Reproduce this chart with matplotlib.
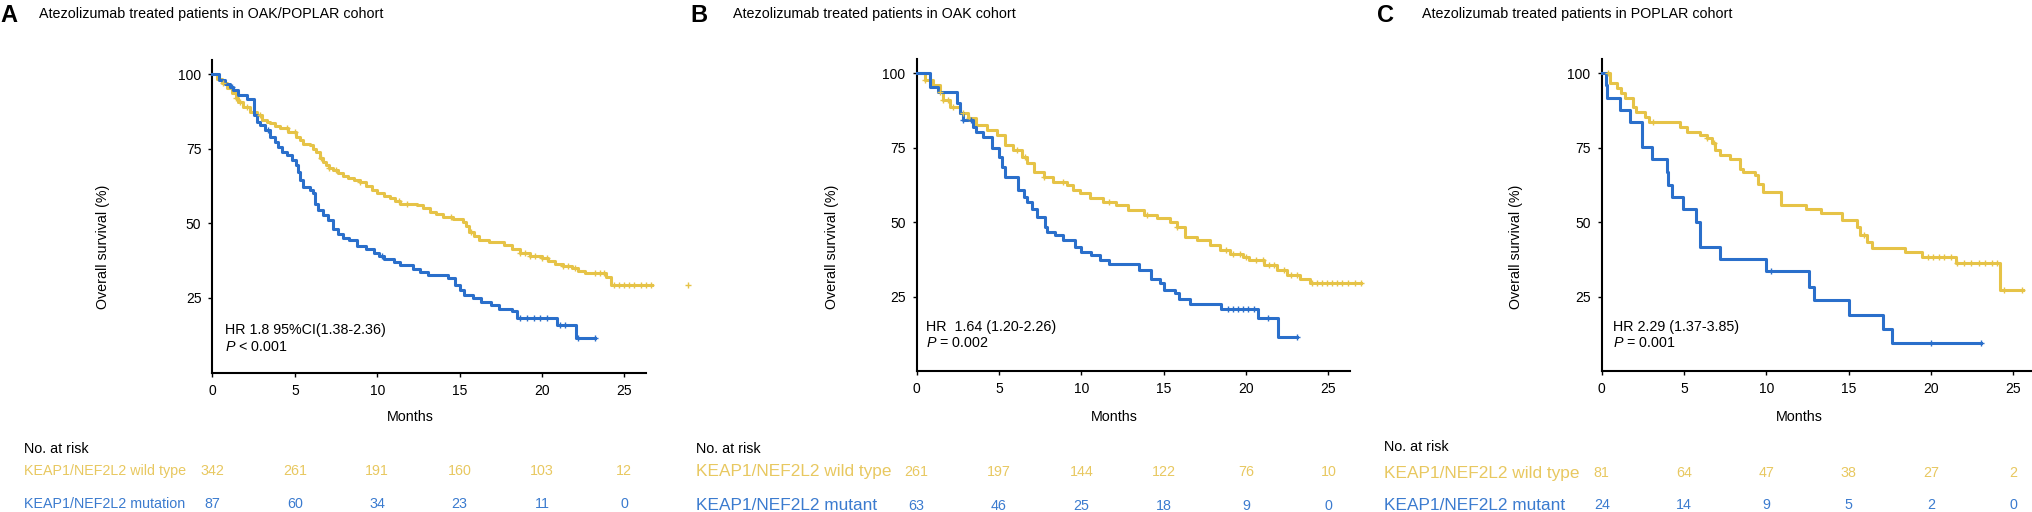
import matplotlib
matplotlib.use('Agg')
import matplotlib.pyplot as plt
import matplotlib.transforms as mtransforms
import numpy as np

plt.rcParams['font.family'] = 'Liberation Sans'
plt.rcParams['mathtext.fontset'] = 'custom'
plt.rcParams['mathtext.it'] = 'Liberation Sans:italic'
plt.rcParams['mathtext.rm'] = 'Liberation Sans'

W, H = 2033, 512
YELLOW = '#e6c347'
BLUE = '#2a6fcb'
YELLOW_TXT = '#e8c860'
BLUE_TXT = '#3b7bcf'

# ---- data ----
risk_months = [0, 5, 10, 15, 20, 25]

# panel A: OAK/POPLAR
a_wt_t = [0, 0.3, 0.55, 0.86, 1.16, 1.4, 1.57, 1.87, 2.28, 2.68, 2.98, 3.3, 3.49, 3.8, 4.1, 4.6,
          5.1, 5.3, 5.5, 5.9, 6.1, 6.3, 6.5, 6.7, 6.9, 7.1, 7.3, 7.6, 7.9, 8.2, 8.6, 8.95, 9.3,
          9.7, 10.0, 10.4, 10.8, 11.1, 11.4, 12.4, 12.8, 13.2, 13.6, 14.0, 14.6, 15.2, 15.4,
          15.6, 15.9, 16.2, 16.8, 17.7, 18.2, 18.7, 19.3, 20.0, 20.4, 20.8, 21.3, 21.8, 22.2,
          22.6, 23.9, 24.2]
a_wt_s = [100, 98.5, 96.9, 95.2, 93.5, 92.0, 90.7, 89.0, 87.4, 86.2, 84.6, 84.0, 83.5, 82.6,
          81.8, 80.6, 79.0, 77.8, 76.7, 76.2, 75.0, 74.0, 71.7, 70.6, 69.5, 68.6, 67.8, 67.0,
          66.0, 65.2, 64.5, 63.8, 62.5, 61.2, 60.0, 59.2, 58.3, 57.4, 56.6, 56.0, 55.0, 53.9,
          53.0, 52.2, 51.4, 50.5, 49.2, 47.1, 45.6, 44.3, 43.6, 42.7, 41.5, 39.9, 39.0, 38.2,
          37.4, 36.5, 35.7, 34.9, 34.0, 33.2, 32.1, 29.3]
a_wt_end = 26.7
a_wt_cens = [0.65, 1.45, 1.7, 2.1, 2.9, 4.5, 5.0, 6.6, 7.1, 7.5, 8.95, 11.3, 11.8, 14.5, 15.7,
             18.7, 19.0, 19.3, 19.6, 20.0, 20.3, 21.3, 21.6, 22.0, 23.2, 23.5, 23.8, 24.4,
             24.7, 25.0, 25.3, 25.6, 26.0, 26.3, 26.6, 28.9]
a_mut_t = [0, 0.4, 0.76, 1.06, 1.26, 1.57, 2.07, 2.52, 2.68, 2.88, 3.19, 3.49, 3.8, 4.0, 4.2,
           4.5, 4.8, 5.1, 5.2, 5.3, 5.5, 5.9, 6.1, 6.2, 6.4, 6.7, 7.0, 7.3, 7.6, 7.9, 8.3, 8.75,
           9.3, 9.8, 10.1, 10.4, 11.0, 11.4, 12.2, 12.6, 13.1, 14.3, 14.7, 15.0, 15.3, 15.8,
           16.3, 16.9, 17.4, 18.2, 18.5, 20.9, 22.1]
a_mut_s = [100, 97.9, 96.8, 95.7, 94.6, 92.9, 91.5, 86.2, 84.0, 82.9, 81.2, 79.0, 77.3, 75.6,
           74.0, 72.8, 71.1, 69.5, 67.2, 64.5, 62.2, 61.1, 60.0, 56.6, 54.4, 52.7, 51.0, 48.2,
           46.5, 45.2, 44.3, 42.4, 41.3, 40.0, 39.0, 38.0, 36.9, 35.9, 34.8, 33.7, 32.6, 31.5,
           29.3, 27.5, 25.9, 24.8, 23.6, 22.5, 21.4, 20.5, 18.1, 15.9, 11.4]
a_mut_end = 23.2
a_mut_cens = [1.2, 3.4, 10.3, 18.7, 19.1, 19.5, 19.9, 20.3, 21.1, 21.4, 22.2, 23.2]
a_risk_wt = [342, 261, 191, 160, 103, 12]
a_risk_mut = [87, 60, 34, 23, 11, 0]

# panel B: OAK
b_wt_t = [0, 0.5, 1.0, 1.4, 1.6, 2.0, 2.6, 3.1, 3.6, 4.25, 4.86, 5.36, 5.87, 6.4, 6.7, 7.1,
          7.7, 8.3, 9.1, 9.5, 9.9, 10.5, 11.3, 12.1, 12.8, 13.8, 14.6, 15.4, 15.8, 16.3, 17.0,
          17.8, 18.4, 19.0, 19.8, 20.2, 21.1, 21.9, 22.5, 23.3, 23.9]
b_wt_s = [100, 97.8, 96.0, 93.8, 91.0, 88.8, 86.6, 84.9, 82.6, 81.0, 79.3, 75.9, 74.2, 72.0,
          69.8, 67.0, 65.3, 63.6, 62.5, 60.8, 59.7, 58.0, 56.9, 55.8, 54.1, 52.4, 51.3, 50.2,
          48.5, 45.1, 44.0, 42.3, 40.6, 39.5, 38.4, 37.3, 35.6, 33.9, 32.2, 31.1, 29.5]
b_wt_end = 27.0
b_wt_cens = [0.5, 1.4, 1.6, 1.9, 2.2, 2.8, 3.2, 6.1, 6.6, 7.7, 8.9, 11.7, 14.0, 15.8, 18.8,
             19.2, 19.6, 20.0, 20.6, 21.0, 21.4, 21.7, 22.3, 22.7, 23.1, 24.0, 24.3, 24.6,
             24.9, 25.2, 25.5, 25.8, 26.2, 26.6, 27.0]
b_mut_t = [0, 0.81, 1.3, 2.43, 2.6, 2.8, 3.4, 3.6, 4.05, 4.55, 5.0, 5.2, 5.36, 6.17, 6.5, 6.7,
           7.0, 7.3, 7.8, 7.9, 8.4, 8.9, 9.6, 10.0, 10.6, 11.1, 11.7, 13.5, 14.2, 14.8, 15.0,
           15.7, 15.9, 16.6, 18.5, 20.75, 21.96]
b_mut_s = [100, 95.5, 93.8, 90.0, 86.6, 84.3, 82.0, 80.4, 78.7, 74.8, 72.0, 68.6, 65.3, 60.8,
           58.6, 56.9, 54.6, 51.8, 48.5, 46.8, 45.7, 44.0, 41.8, 40.1, 39.0, 37.3, 36.0, 34.0,
           31.1, 29.5, 27.2, 26.1, 24.4, 22.7, 21.0, 17.7, 11.5]
b_mut_end = 23.1
b_mut_cens = [2.8, 3.3, 18.9, 19.2, 19.5, 19.8, 20.1, 20.5, 21.3, 23.1]
b_risk_wt = [261, 197, 144, 122, 76, 10]
b_risk_mut = [63, 46, 25, 18, 9, 0]

# panel C: POPLAR
c_wt_t = [0, 0.5, 0.9, 1.2, 1.4, 1.9, 2.1, 2.6, 2.9, 4.76, 5.2, 5.98, 6.4, 6.7, 6.9, 7.2, 7.8,
          8.4, 8.6, 9.3, 9.5, 9.8, 10.9, 12.4, 13.3, 14.6, 15.5, 15.7, 16.1, 16.4, 18.4, 19.45,
          21.5, 24.2]
c_wt_s = [100, 96.6, 95.0, 93.3, 91.6, 88.8, 87.1, 85.4, 83.8, 82.1, 80.4, 79.3, 78.2, 76.5,
          74.2, 72.6, 71.1, 68.0, 67.0, 65.8, 63.0, 60.2, 55.8, 54.6, 53.0, 50.7, 48.5, 45.7,
          43.4, 41.2, 40.1, 38.4, 36.2, 27.2]
c_wt_end = 25.6
c_wt_cens = [0.4, 3.1, 6.4, 6.8, 15.9, 19.8, 20.1, 20.5, 20.8, 21.2, 21.6, 22.0, 22.4, 22.9,
             23.3, 23.7, 24.0, 24.4, 25.5]
c_mut_t = [0, 0.26, 0.35, 1.1, 1.72, 2.43, 3.04, 3.95, 4.05, 4.25, 4.96, 5.73, 5.98, 7.2,
           10.0, 12.56, 12.9, 15.0, 17.1, 17.6]
c_mut_s = [100, 96.1, 91.6, 87.7, 83.8, 75.1, 71.1, 67.0, 62.5, 58.6, 54.3, 50.0, 41.8, 37.5,
           33.6, 28.3, 23.9, 19.0, 14.3, 9.3]
c_mut_end = 23.04
c_mut_cens = [10.3, 20.0, 23.04]
c_risk_wt = [81, 64, 47, 38, 27, 2]
c_risk_mut = [24, 14, 9, 5, 2, 0]

letters = ['A', 'B', 'C']
titles = ['Atezolizumab treated patients in OAK/POPLAR cohort',
          'Atezolizumab treated patients in OAK cohort',
          'Atezolizumab treated patients in POPLAR cohort']
hr_texts = ['HR 1.8 95%CI(1.38-2.36)', 'HR  1.64 (1.20-2.26)', 'HR 2.29 (1.37-3.85)']
p_texts = ['$P$ < 0.001', '$P$ = 0.002', '$P$ = 0.001']
wt_labels = ['KEAP1/NEF2L2 wild type'] * 3
mut_labels = ['KEAP1/NEF2L2 mutation', 'KEAP1/NEF2L2 mutant', 'KEAP1/NEF2L2 mutant']

panels = [
    (a_wt_t, a_wt_s, a_wt_end, a_wt_cens, a_mut_t, a_mut_s, a_mut_end, a_mut_cens, a_risk_wt, a_risk_mut),
    (b_wt_t, b_wt_s, b_wt_end, b_wt_cens, b_mut_t, b_mut_s, b_mut_end, b_mut_cens, b_risk_wt, b_risk_mut),
    (c_wt_t, c_wt_s, c_wt_end, c_wt_cens, c_mut_t, c_mut_s, c_mut_end, c_mut_cens, c_risk_wt, c_risk_mut),
]

# ---- layout (pixels) ----
layout = [
    dict(ax_left=212.5, ax_top=60, ax_bot=372.5, letter_x=0.5, title_x=39, ylab_x=102.8,
         hr_y=330, p_y=346.7, hr_x=225, tab_x=24, nar_y=449.3, wt_y=470.7, mut_y=504, lab_fs=10.3),
    dict(ax_left=916.7, ax_top=59.3, ax_bot=371.2, letter_x=690.5, title_x=733, ylab_x=831.8,
         hr_y=326.7, p_y=343.3, hr_x=926, tab_x=696, nar_y=449.3, wt_y=471.7, mut_y=505.5, lab_fs=12.4),
    dict(ax_left=1601.7, ax_top=59.3, ax_bot=371.2, letter_x=1377.5, title_x=1421.5, ylab_x=1515.6,
         hr_y=326.7, p_y=343.3, hr_x=1612.7, tab_x=1384.2, nar_y=446.7, wt_y=473.3, mut_y=505, lab_fs=12.4),
]
XMAX = 26.3
PX_PER_MONTH = 16.47


def fx(x):
    return x / W


def fy(y):
    return 1 - y / H


def km_curve(ax, t, s, t_end, cens, color):
    tt = np.array(t + [t_end])
    ss = np.array(s + [s[-1]])
    ax.step(tt, ss, where='post', color=color, lw=2.2, clip_on=False, zorder=3)
    cens = np.array(cens)
    idx = np.searchsorted(tt, cens, side='right') - 1
    ax.plot(cens, ss[idx], ls='none', marker='+', ms=5, mew=1, color=color,
            clip_on=False, zorder=4)


fig = plt.figure(figsize=(W / 100, H / 100), dpi=100)

for i, (p, L) in enumerate(zip(panels, layout)):
    wt_t, wt_s, wt_end, wt_c, mu_t, mu_s, mu_end, mu_c, r_wt, r_mu = p
    ax = fig.add_axes([fx(L['ax_left']), fy(L['ax_bot']),
                       XMAX * PX_PER_MONTH / W, (L['ax_bot'] - L['ax_top']) / H])
    km_curve(ax, wt_t, wt_s, wt_end, wt_c, YELLOW)
    km_curve(ax, mu_t, mu_s, mu_end, mu_c, BLUE)
    ax.set_xlim(0, XMAX)
    ax.set_ylim(0, 104.7)
    ax.set_xticks(risk_months)
    ax.set_yticks([25, 50, 75, 100])
    for sp in ['top', 'right']:
        ax.spines[sp].set_visible(False)
    for sp in ['left', 'bottom']:
        ax.spines[sp].set_linewidth(1.5)
    ax.tick_params(direction='out', length=3, width=1, labelsize=10, pad=5)

    # HR / P text
    fig.text(fx(L['hr_x']), fy(L['hr_y']), hr_texts[i], fontsize=10.3, va='center', ha='left')
    fig.text(fx(L['hr_x']), fy(L['p_y']), p_texts[i], fontsize=10.3, va='center', ha='left')

    # header
    fig.text(fx(L['letter_x']), fy(15), letters[i], fontsize=17, fontweight='bold',
             va='center', ha='left')
    fig.text(fx(L['title_x']), fy(14), titles[i], fontsize=10.3, va='center', ha='left')

    # axis labels
    fig.text(fx(L['ylab_x']), fy(246.5), 'Overall survival (%)', fontsize=10.3,
             rotation=90, va='center', ha='center')
    mtr = mtransforms.blended_transform_factory(ax.transData, fig.transFigure)
    ax.text(12.0, fy(417), 'Months', fontsize=10.3, transform=mtr, va='center', ha='center')

    # risk table
    fig.text(fx(L['tab_x']), fy(L['nar_y']), 'No. at risk', fontsize=10.3, va='center', ha='left')
    fig.text(fx(L['tab_x']), fy(L['wt_y']), wt_labels[i], fontsize=L['lab_fs'],
             color=YELLOW_TXT, va='center', ha='left')
    fig.text(fx(L['tab_x']), fy(L['mut_y']), mut_labels[i], fontsize=L['lab_fs'],
             color=BLUE_TXT, va='center', ha='left')
    for m, n1, n2 in zip(risk_months, r_wt, r_mu):
        ax.text(m, fy(L['wt_y']), str(n1), fontsize=10.3, color=YELLOW_TXT, transform=mtr,
                va='center', ha='center', clip_on=False)
        ax.text(m, fy(L['mut_y']), str(n2), fontsize=10.3, color=BLUE_TXT, transform=mtr,
                va='center', ha='center', clip_on=False)

fig.savefig('out.png', dpi=100)
